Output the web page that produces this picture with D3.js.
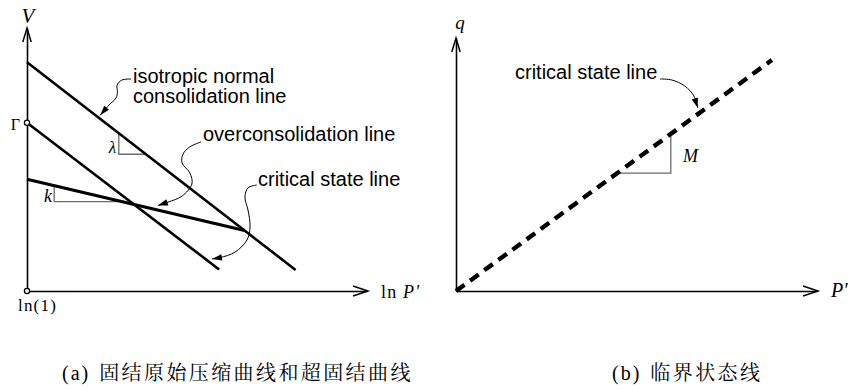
<!DOCTYPE html>
<html>
<head>
<meta charset="utf-8">
<script src="https://cdn.jsdelivr.net/npm/d3@7"></script>
<style>
  html, body { margin: 0; padding: 0; background: #fff; }
  svg { display: block; }
  .sans { font-family: "Liberation Sans", Arial, sans-serif; }
  .serif { font-family: "Liberation Serif", "Times New Roman", serif; }
  .cjk { font-family: "Noto Serif CJK SC", "Noto Sans CJK SC", sans-serif; }
</style>
</head>
<body>
<svg id="fig" width="848" height="391"></svg>
<script>
// ---- (a) specific volume v vs ln p' (schematic units) ----
const nclLine   = [[0, 87], [79, 8]];        // isotropic normal consolidation line
const cslLineA  = [[0, 64], [56.5, 8.2]];    // critical state line, starts at Gamma
const oclLine   = [[0, 42.5], [64, 23]];     // overconsolidation (swelling) line
const lambdaTri = [[27, 60], [27, 52], [35, 52]];
const kappaTri  = [[8, 40], [8, 34], [27.5, 34]];
const gammaPt   = [0, 64];
const originA   = [0, 0];
const nclLeader = [[30.6, 80.6], [27.9, 80.2], [26.5, 78.3], [26.6, 75.7], [26.2, 73.4], [24.1, 70.7], [21.5, 66.8]];
const oclLeader = [[51.2, 56.7], [47.9, 54.8], [45.9, 52.1], [45.6, 48.7], [47.9, 44.9], [48.5, 40.7], [45.6, 36.1], [41.5, 33.8], [38.5, 32.5]];
const cslLeaderA = [[67.6, 40.3], [65.0, 39.2], [64.1, 35.7], [65.0, 30.8], [65.6, 24.3], [64.7, 19.4], [61.2, 14.8], [56.8, 12.7], [54.4, 12.2]];

// ---- (b) q vs p' ----
const cslLineB  = [[0, 0], [87.5, 91.3]];
const mTri      = [[59.5, 62.1], [59.5, 46.6], [44.7, 46.6]];
const cslLeaderB = [[56.5, 83.8], [59.8, 83.4], [63.4, 81.0], [65.9, 77.1], [67.0, 72.3]];

const svg = d3.select("#fig");

const xA = d3.scaleLinear().domain([0, 100]).range([27, 367]);
const yA = d3.scaleLinear().domain([0, 100]).range([291, 28]);
const xB = d3.scaleLinear().domain([0, 100]).range([456, 817]);
const yB = d3.scaleLinear().domain([0, 100]).range([291, 38]);

function openArrow(g, tip, dir, len, half) {
  // two-stroke open arrowhead at tip, dir = unit vector of travel
  const [tx, ty] = tip, [dx, dy] = dir;
  const bx = tx - dx * len, by = ty - dy * len;
  const px = -dy, py = dx;
  g.append("path")
    .attr("d", `M${bx + px * half},${by + py * half}L${tx},${ty}L${bx - px * half},${by - py * half}`)
    .attr("fill", "none").attr("stroke", "#000").attr("stroke-width", 1.5)
    .attr("stroke-linejoin", "miter");
}

function drawAxes(g, x, y) {
  g.append("g").attr("transform", `translate(0,${y(0)})`)
    .call(d3.axisBottom(x).tickValues([]).tickSizeOuter(0));
  g.append("g").attr("transform", `translate(${x(0)},0)`)
    .call(d3.axisLeft(y).tickValues([]).tickSizeOuter(0));
  g.selectAll(".domain").attr("stroke", "#000").attr("stroke-width", 1.6);
  openArrow(g, [x(100) + 1, y(0)], [1, 0], 15, 5);
  openArrow(g, [x(0), y(100)], [0, -1], 14, 4.2);
}

function leader(g, pts, x, y) {
  const p = pts.map(d => [x(d[0]), y(d[1])]);
  g.append("path")
    .attr("d", d3.line().curve(d3.curveCatmullRom.alpha(0.5))(p))
    .attr("fill", "none").attr("stroke", "#000").attr("stroke-width", 1);
  const a = p[p.length - 2], b = p[p.length - 1];
  const L = Math.hypot(b[0] - a[0], b[1] - a[1]);
  const dx = (b[0] - a[0]) / L, dy = (b[1] - a[1]) / L;
  const len = 10, half = 3.2;
  const bx = b[0] - dx * len, by = b[1] - dy * len;
  g.append("path")
    .attr("d", `M${b[0]},${b[1]}L${bx - dy * half},${by + dx * half}L${bx + dy * half},${by - dx * half}Z`)
    .attr("fill", "#000");
}

function seg(g, pts, x, y, w, color, dash) {
  const p = g.append("path")
    .attr("d", d3.line().x(d => x(d[0])).y(d => y(d[1]))(pts))
    .attr("fill", "none").attr("stroke", color).attr("stroke-width", w);
  if (dash) p.attr("stroke-dasharray", dash);
  return p;
}

// ---------- panel (a) ----------
const gA = svg.append("g");
drawAxes(gA, xA, yA);
seg(gA, lambdaTri, xA, yA, 1.3, "#6b6b6b");
seg(gA, kappaTri, xA, yA, 1.3, "#6b6b6b");
seg(gA, nclLine, xA, yA, 2.6, "#000");
seg(gA, cslLineA, xA, yA, 2.6, "#000");
seg(gA, oclLine, xA, yA, 3.2, "#000");
leader(gA, nclLeader, xA, yA);
leader(gA, oclLeader, xA, yA);
leader(gA, cslLeaderA, xA, yA);
[gammaPt, originA].forEach(d => {
  gA.append("circle").attr("cx", xA(d[0])).attr("cy", yA(d[1])).attr("r", 2.6)
    .attr("fill", "#fff").attr("stroke", "#000").attr("stroke-width", 1.3);
});

const txt = (g, s, x, y, cls, size, opts = {}) => {
  const t = g.append("text").attr("x", x).attr("y", y).attr("class", cls)
    .attr("font-size", size).attr("fill", "#000").text(s);
  if (opts.italic) t.attr("font-style", "italic");
  if (opts.anchor) t.attr("text-anchor", opts.anchor);
  if (opts.ls) t.attr("letter-spacing", opts.ls);
  return t;
};

txt(gA, "V", 28, 23, "serif", 21, { italic: true, anchor: "middle" });
txt(gA, "Γ", 20, 130, "serif", 16, { anchor: "end" });
txt(gA, "λ", 116, 153, "serif", 17, { italic: true, anchor: "end" });
txt(gA, "k", 52, 202, "serif", 18, { italic: true, anchor: "end" });
txt(gA, "ln(1)", 18, 311, "serif", 17, { ls: 1.2 });
const lnp = txt(gA, "ln ", 381, 298, "serif", 18, { ls: 1.2 });
lnp.append("tspan").attr("font-style", "italic").text("P′");
txt(gA, "isotropic normal", 133, 83, "sans", 20);
txt(gA, "consolidation line", 133, 103, "sans", 20);
txt(gA, "overconsolidation line", 203, 141, "sans", 20);
txt(gA, "critical state line", 258, 186, "sans", 20);

// ---------- panel (b) ----------
const gB = svg.append("g");
drawAxes(gB, xB, yB);
seg(gB, mTri, xB, yB, 1.3, "#6b6b6b");
seg(gB, cslLineB, xB, yB, 4.4, "#000", "10.5 7");
leader(gB, cslLeaderB, xB, yB);
txt(gB, "q", 460, 29, "serif", 19, { italic: true, anchor: "middle" });
txt(gB, "M", 683, 162, "serif", 18, { italic: true });
txt(gB, "P′", 831, 297, "serif", 20, { italic: true });
txt(gB, "critical state line", 515, 79, "sans", 20);

// ---------- captions ----------
const capA = svg.append("text").attr("x", 62).attr("y", 380).attr("font-size", 20).attr("fill", "#000");
capA.append("tspan").attr("class", "serif").attr("letter-spacing", 2).text("(a)");
capA.append("tspan").attr("class", "cjk").attr("dx", 9).attr("letter-spacing", 2.4).text("固结原始压缩曲线和超固结曲线");
const capB = svg.append("text").attr("x", 612).attr("y", 380).attr("font-size", 20).attr("fill", "#000");
capB.append("tspan").attr("class", "serif").attr("letter-spacing", 2).text("(b)");
capB.append("tspan").attr("class", "cjk").attr("dx", 9).attr("letter-spacing", 2.4).text("临界状态线");
</script>
</body>
</html>
